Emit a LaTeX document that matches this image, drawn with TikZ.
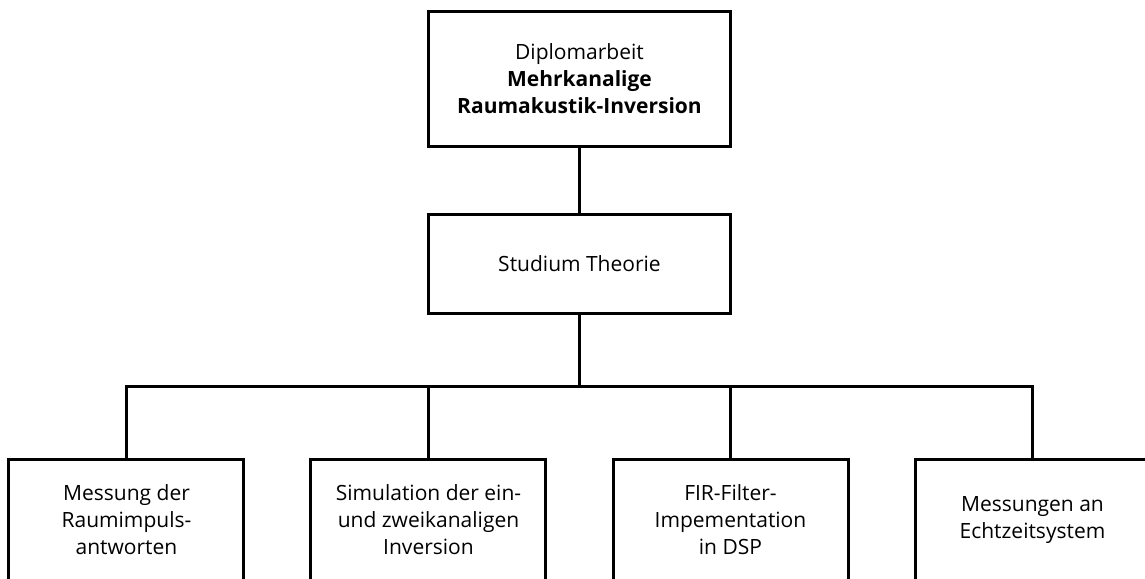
\documentclass[tikz,border=0pt]{standalone}
\usepackage{fontspec}
\setmainfont{Open Sans}
\usepackage{tikz}
\usetikzlibrary{positioning, calc}

\begin{document}
\begin{tikzpicture}[
    node distance=32.5pt,
    line width=1.5pt,
    thesis/.style={rectangle, draw, minimum width=150.5pt, minimum height=67pt, align=center, font=\fontsize{10.5}{13.5}\selectfont},
    theory/.style={rectangle, draw, minimum width=150.5pt, minimum height=49.5pt, align=center, font=\fontsize{10.5}{13.5}\selectfont},
    task/.style={rectangle, draw, minimum width=117.5pt, minimum height=61pt, align=center, font=\fontsize{10.5}{13.5}\selectfont},
    link/.style={-, line width=1.5pt}
]

% page frame (boxes at the bottom and right run off the page)
\useasboundingbox (-289.75pt,39.5pt) rectangle (282.75pt,-249.5pt);
\clip (-289.75pt,39.5pt) rectangle (282.75pt,-249.5pt);

\node[thesis] (dipl) at (0,0) {Diplomarbeit\\ \textbf{Mehrkanalige}\\ \textbf{Raumakustik-Inversion}};
\node[theory, below=of dipl] (theo) {Studium Theorie};

\node[task, below=71.5pt of theo, xshift=75.5pt] (fir) {FIR-Filter-\\ Impementation\\ in DSP};
\node[task, left=32pt of fir] (sim) {Simulation der ein-\\ und zweikanaligen\\ Inversion};
\node[task, left=32pt of sim] (mess) {Messung der\\ Raumimpuls-\\ antworten};
\node[task, right=32pt of fir] (echt) {Messungen an\\ Echtzeitsystem};

\coordinate (bus) at ($(theo.south)!0.5!(theo.south |- fir.north)$);

\draw[link] (dipl) -- (theo);
\draw[link] (theo.south) -- (bus);
\foreach \t in {mess, sim, fir, echt}
    \draw[link] (bus) -| (\t.north);

\end{tikzpicture}
\end{document}
